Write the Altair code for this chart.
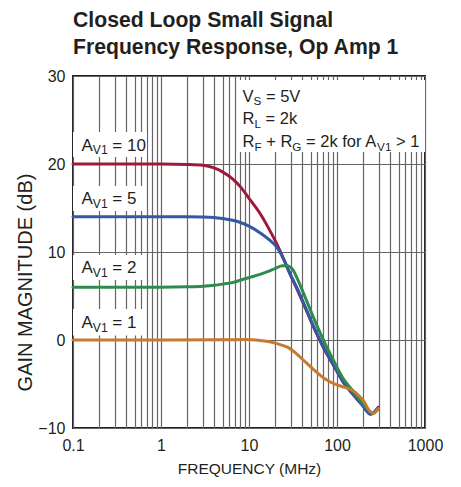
import altair as alt
import pandas as pd

# ---------------- data ----------------
freq_av10 = [0.1, 1, 2, 3, 4, 5, 6.5, 8, 10, 13.3, 16.5, 20.5, 25, 29, 35, 41.7, 53.5, 70, 91, 117, 151, 196, 246, 294]
gain_av10 = [20, 20, 19.95, 19.85, 19.55, 19.1, 18.3, 17.4, 16.1, 14.4, 12.8, 11.0, 9.1, 7.6, 5.8, 4.1, 1.6, -0.85, -2.85, -4.75, -6.15, -7.45, -8.4, -7.65]

freq_av5 = [0.1, 1, 2, 3, 4, 5, 6.5, 8, 10, 13.3, 16.5, 20.5, 25, 29, 35, 41.7, 53.5, 70, 91, 117, 151, 196, 240, 283]
gain_av5 = [14, 14, 14, 13.98, 13.92, 13.8, 13.6, 13.35, 12.95, 12.2, 11.5, 10.6, 9.1, 7.6, 5.95, 4.2, 1.65, -0.8, -2.8, -4.7, -6.1, -7.45, -8.45, -7.85]

freq_av2 = [0.1, 1, 2, 3, 4, 5, 6.6, 8.6, 10.5, 13.3, 16.5, 20, 24, 27, 31.5, 36, 41.7, 53.5, 70, 91, 117, 151, 196, 230, 257, 294]
gain_av2 = [6, 6, 6.05, 6.12, 6.22, 6.35, 6.55, 6.9, 7.15, 7.45, 7.8, 8.15, 8.45, 8.45, 8.0, 6.8, 5.3, 2.65, 0, -2.3, -4.35, -5.75, -7.2, -8.0, -8.35, -7.8]

freq_av1 = [0.1, 1, 5, 9.4, 12, 15, 18.8, 23, 29, 35, 41.7, 53.5, 70, 85, 100, 125, 151, 178, 200, 236, 257, 294]
gain_av1 = [0, 0, 0.02, 0.05, 0, -0.12, -0.3, -0.55, -0.95, -1.6, -2.3, -3.3, -4.3, -4.8, -5.1, -5.4, -5.75, -6.35, -6.9, -8.1, -8.35, -7.8]

series_names = ["AV1 = 10", "AV1 = 5", "AV1 = 2", "AV1 = 1"]
series_colors = ["#9e1a3c", "#3656a6", "#2e8b4e", "#c7792f"]

x_tick_labels = ["0.1", "1", "10", "100", "1000"]
x_grid_values = [round(a * 10 ** k, 6) for k in range(-1, 3) for a in range(1, 10)] + [1000]
y_tick_values = [-10, 0, 10, 20, 30]

# annotation label: (anchor freq, baseline gain, main font size, pieces[(text, is_subscript)])
labels = [
    (0.1, 21.5, 17, [("A", False), ("V1", True), (" = 10", False)]),
    (0.1, 15.45, 17, [("A", False), ("V1", True), (" = 5", False)]),
    (0.1, 7.6, 17, [("A", False), ("V1", True), (" = 2", False)]),
    (0.1, 1.33, 17, [("A", False), ("V1", True), (" = 1", False)]),
    (7.31, 27.08, 16.5, [("V", False), ("S", True), (" = 5V", False)]),
    (7.31, 24.5, 16.5, [("R", False), ("L", True), (" = 2k", False)]),
    (7.31, 21.9, 16.5, [("R", False), ("F", True), (" + R", False), ("G", True),
                        (" = 2k for A", False), ("V1", True), (" > 1", False)]),
]
# white boxes behind the annotations: freq left, freq right, gain bottom, gain top
box_f1 = [0.1, 0.1, 0.1, 0.1, 7.31]
box_f2 = [0.69, 0.65, 0.65, 0.65, 1000]
box_g1 = [20.8, 14.66, 6.82, 0.5, 21.36]
box_g2 = [23.64, 17.5, 9.66, 3.52, 29.55]

# ---------------- styling ----------------
FONT = "Liberation Sans"
TXT = "#231f20"
ARIAL = {' ': 278, '+': 584, '=': 584, '>': 584, 'A': 667, 'F': 611, 'G': 778,
         'L': 556, 'R': 722, 'S': 667, 'V': 667, 'f': 278, 'k': 500, 'o': 556, 'r': 333}


def text_width(s, size):
    return sum(ARIAL.get(c, 556) for c in s) * size / 1000


xs = alt.Scale(type="log", domain=[0.1, 1000], nice=False)
ys = alt.Scale(domain=[-10, 30], nice=False, zero=False)

label_expr = "indexof(" + str(x_tick_labels) + ", datum.label) >= 0 ? datum.label : ''"
x_axis = alt.Axis(values=x_grid_values, format="~g", labelExpr=label_expr,
                  grid=True, ticks=False, domain=False, labelFlush=False,
                  labelPadding=9, labelFont=FONT, labelFontSize=16, labelColor=TXT,
                  titleFont=FONT, titleFontSize=15.5, titleFontWeight="normal",
                  titleColor=TXT, titlePadding=8, labelOverlap=False)
y_axis = alt.Axis(values=y_tick_values, grid=True, ticks=False, domain=False,
                  labelPadding=8, labelFont=FONT, labelFontSize=16, labelColor=TXT,
                  titleFont=FONT, titleFontSize=20, titleFontWeight="normal",
                  titleColor=TXT, titleX=-48, titleY=206, titleAlign="center",
                  titleBaseline="middle", titleAngle=270)


def X(field="freq"):
    return alt.X(f"{field}:Q", scale=xs, axis=x_axis, title="FREQUENCY (MHz)")


def Y(field="gain"):
    return alt.Y(f"{field}:Q", scale=ys, axis=y_axis, title="GAIN MAGNITUDE (dB)")


rows = []
for name, f, g in zip(series_names, [freq_av10, freq_av5, freq_av2, freq_av1],
                      [gain_av10, gain_av5, gain_av2, gain_av1]):
    for fi, gi in zip(f, g):
        rows.append({"series": name, "freq": fi, "gain": gi})
df = pd.DataFrame(rows)

lines = alt.Chart(df).mark_line(strokeWidth=3, interpolate="monotone", strokeCap="round").encode(
    x=X(), y=Y(),
    color=alt.Color("series:N", scale=alt.Scale(domain=series_names, range=series_colors),
                    legend=None),
    order=alt.Order("freq:Q"),
)

box_df = pd.DataFrame({"freq": box_f1, "freq2": box_f2, "gain": box_g1, "gain2": box_g2})
boxes = alt.Chart(box_df).mark_rect(color="white").encode(
    x=X(), x2="freq2:Q", y=Y(), y2="gain2:Q",
)

text_layers = []
for fx, gy, main_size, pieces in labels:
    dx = 5.5 if fx > 1 else 8.5
    sub_size = round(main_size * 0.71, 1)
    for txt, sub in pieces:
        size = sub_size if sub else main_size
        stripped = txt.lstrip(" ")
        lead = text_width(txt[: len(txt) - len(stripped)], size)
        t = alt.Chart(pd.DataFrame({"freq": [fx], "gain": [gy], "t": [stripped]})).mark_text(
            align="left", baseline="alphabetic", font=FONT, fontSize=size, color=TXT,
            dx=dx + lead, dy=3.5 if sub else 0,
        ).encode(x=X(), y=Y(), text="t:N")
        text_layers.append(t)
        dx += text_width(txt, size)

chart = alt.layer(boxes, lines, *text_layers).properties(
    width=352, height=352,
    autosize=alt.AutoSizeParams(type="none"),
    padding={"left": 65, "top": 68, "right": 28, "bottom": 51},
    title=alt.TitleParams(
        text=["Closed Loop Small Signal", "Frequency Response, Op Amp 1"],
        font=FONT, fontSize=21.2, fontWeight="bold", color=TXT,
        anchor="start", frame="group", lineHeight=26.5, offset=10,
    ),
).configure_view(
    stroke=TXT, strokeWidth=2,
).configure_axis(
    gridColor="#666666", gridWidth=1.2, gridOpacity=1,
)

chart.save("out.html", embed_options={"renderer": "svg", "actions": False})
